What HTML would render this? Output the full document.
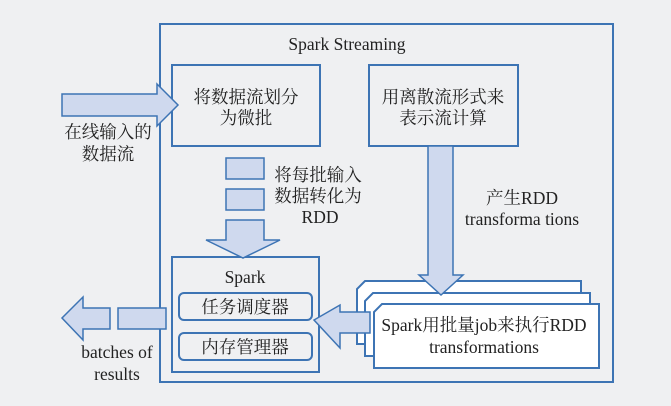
<!DOCTYPE html>
<html><head><meta charset="utf-8"><style>
html,body{margin:0;padding:0;background:#eff0f2;}
svg{display:block}
text{font-family:"Liberation Serif","Noto Serif CJK SC",serif;fill:#222;}
</style></head><body>
<svg width="671" height="406" viewBox="0 0 671 406">
<rect width="671" height="406" fill="#eff0f2"/>
<g stroke="#3d74b4" stroke-width="2" fill="none">
<rect x="160" y="24" width="453" height="358"/>
<rect x="172" y="65" width="148" height="81"/>
<rect x="369" y="65" width="149" height="81"/>
<rect x="172" y="257" width="147" height="115"/>
<rect x="179" y="293" width="133" height="27" rx="5"/>
<rect x="179" y="333" width="133" height="27" rx="5"/>
</g>
<g stroke="#3d74b4" stroke-width="2" fill="#fff">
<polygon points="365,281 581,281 581,344 357,344 357,289"/>
<polygon points="373,293 590,293 590,356 365,356 365,301"/>
<polygon points="382,304 599,304 599,368 374,368 374,312"/>
</g>
<g stroke="#3d74b4" stroke-width="1.5" fill="#cfd9ee">
<polygon points="62,94 157,94 157,84 178,105 157,126 157,116 62,116"/>
<rect x="226" y="158" width="38" height="21"/>
<rect x="226" y="189" width="38" height="21"/>
<polygon points="226,220 264,220 264,240 280,240 243,258 206,240 226,240"/>
<rect x="118" y="308" width="48" height="21"/>
<polygon points="110,308 83,308 83,297 62,318 83,340 83,329 110,329"/>
<polygon points="428,146 453,146 453,275 463,275 441,295 419,275 428,275"/>
<polygon points="370,312 340,312 340,305 314,320 340,348 340,333 370,333"/>
</g>
<g font-size="17.5" text-anchor="middle">
<text x="347" y="50">Spark Streaming</text>
<text x="246" y="103">将数据流划分</text>
<text x="246" y="124">为微批</text>
<text x="443" y="103">用离散流形式来</text>
<text x="443" y="124">表示流计算</text>
<text x="108" y="138">在线输入的</text>
<text x="108" y="160">数据流</text>
<text x="318" y="181">将每批输入</text>
<text x="318" y="202">数据转化为</text>
<text x="320" y="223">RDD</text>
<text x="245" y="283">Spark</text>
<text x="245" y="313">任务调度器</text>
<text x="245" y="353">内存管理器</text>
<text x="522" y="204">产生RDD</text>
<text x="522" y="225">transforma tions</text>
<text x="484" y="331">Spark用批量job来执行RDD</text>
<text x="484" y="353">transformations</text>
<text x="117" y="358">batches of</text>
<text x="117" y="380">results</text>
</g>
</svg>
</body></html>
